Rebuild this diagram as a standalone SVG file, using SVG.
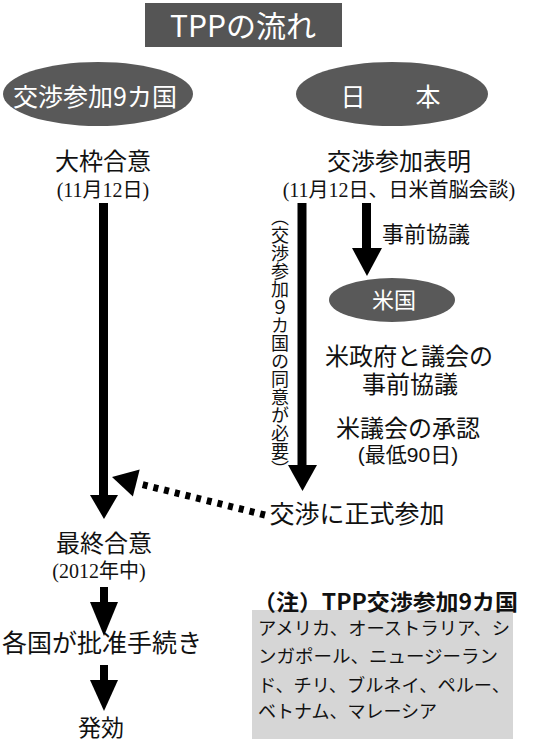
<svg xmlns="http://www.w3.org/2000/svg" width="550" height="742" viewBox="0 0 550 742">
<style>
.jp{font-family:"Noto Sans CJK JP","Noto Sans CJK SC",sans-serif;fill:#111}
.mix{font-family:"Liberation Serif","Noto Sans CJK JP",serif;fill:#111}
.sans{font-family:"Liberation Sans","Noto Sans CJK JP",sans-serif;fill:#111}
.dark{fill:#595959}
.blk{fill:#000}
</style>
<rect width="550" height="742" fill="#fff"/>
<g id="title">
<rect x="145" y="3" width="197" height="44" fill="#555"/>
<text x="243" y="37" class="jp" font-size="30" text-anchor="middle" style="fill:#fff">TPPの流れ</text>
</g>
<g id="node-tpp9">
<ellipse cx="98" cy="94" rx="95" ry="32" class="dark"/>
<text x="95" y="106" class="jp" font-size="25" text-anchor="middle" style="fill:#fff">交渉参加9カ国</text>
</g>
<g id="node-japan">
<ellipse cx="392" cy="94" rx="96" ry="32" class="dark"/>
<text x="353" y="106" class="jp" font-size="25" text-anchor="middle" style="fill:#fff">日</text>
<text x="428" y="106" class="jp" font-size="25" text-anchor="middle" style="fill:#fff">本</text>
</g>
<g id="node-taiwaku">
<text x="103" y="170" class="jp" font-size="24" text-anchor="middle">大枠合意</text>
<text x="103" y="197" class="mix" font-size="20" text-anchor="middle">(11月12日)</text>
</g>
<g id="node-hyomei">
<text x="399" y="170" class="jp" font-size="24" text-anchor="middle">交渉参加表明</text>
<text x="399" y="197" class="mix" font-size="20" text-anchor="middle">(11月12日、日米首脳会談)</text>
</g>
<g id="node-jizen">
<text x="382" y="242" class="jp" font-size="22">事前協議</text>
</g>
<g id="node-usa">
<ellipse cx="392" cy="300" rx="63" ry="22" class="dark"/>
<text x="394" y="308" class="jp" font-size="22" text-anchor="middle" style="fill:#fff">米国</text>
</g>
<g id="node-usgov">
<text x="409" y="365" class="sans" font-size="24" text-anchor="middle">米政府と議会の</text>
<text x="410" y="393" class="sans" font-size="24" text-anchor="middle">事前協議</text>
</g>
<g id="node-uscongress">
<text x="408" y="437" class="sans" font-size="24" text-anchor="middle">米議会の承認</text>
<text x="408" y="462" class="sans" font-size="21" text-anchor="middle">(最低90日)</text>
</g>
<g id="node-consent">
<text x="280" y="208" class="jp" font-size="18" style="writing-mode:vertical-rl">（交渉参加９カ国の同意が必要）</text>
</g>
<g id="node-formal">
<text x="357" y="523" class="jp" font-size="25" text-anchor="middle">交渉に正式参加</text>
</g>
<g id="node-final">
<text x="104" y="552" class="jp" font-size="24" text-anchor="middle">最終合意</text>
<text x="99" y="578" class="mix" font-size="20" text-anchor="middle">(2012年中)</text>
</g>
<g id="node-ratify">
<text x="102" y="652" class="jp" font-size="25" text-anchor="middle">各国が批准手続き</text>
</g>
<g id="node-effect">
<text x="101" y="736" class="jp" font-size="23" text-anchor="middle">発効</text>
</g>
<g id="node-note">
<rect x="252" y="610" width="261" height="129" fill="#d6d6d6"/>
<text x="253" y="610" class="jp" font-size="22" font-weight="bold" textLength="265" lengthAdjust="spacingAndGlyphs">（注）TPP交渉参加9カ国</text>
<text x="258" y="635" class="jp" font-size="18" textLength="252" lengthAdjust="spacingAndGlyphs">アメリカ、オーストラリア、シ</text>
<text x="258" y="663" class="jp" font-size="18" textLength="240" lengthAdjust="spacingAndGlyphs">ンガポール、ニュージーラン</text>
<text x="258" y="692" class="jp" font-size="18" textLength="252" lengthAdjust="spacingAndGlyphs">ド、チリ、ブルネイ、ペルー、</text>
<text x="258" y="718" class="jp" font-size="18">ベトナム、マレーシア</text>
</g>
<g id="connectors">
<rect x="99" y="203" width="9" height="293" class="blk"/>
<polygon points="90,495 118,495 104,519" class="blk"/>
<rect x="297.5" y="203" width="9" height="263" class="blk"/>
<polygon points="288,465 317,465 302.5,491" class="blk"/>
<rect x="362" y="203" width="9" height="46" class="blk"/>
<polygon points="352,248 382,248 367,276" class="blk"/>
<rect x="100" y="587" width="8" height="16" class="blk"/>
<polygon points="90,602 118,602 104,636" class="blk"/>
<rect x="100" y="665" width="8" height="16" class="blk"/>
<polygon points="90,680 118,680 104,711" class="blk"/>
<line x1="265" y1="515" x2="140" y2="484" stroke="#000" stroke-width="7" stroke-dasharray="5 6"/>
<polygon points="112,477 139.7,469.4 132.9,496.6" class="blk"/>
</g>
</svg>
